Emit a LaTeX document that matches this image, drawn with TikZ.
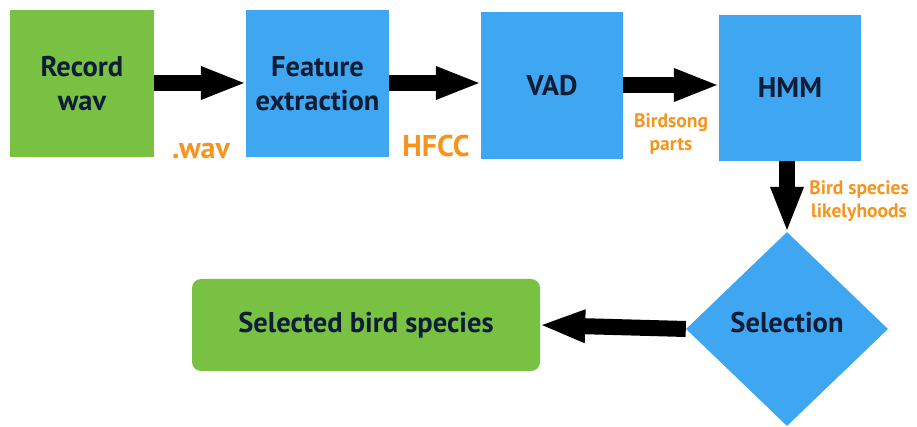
\documentclass[tikz,border=0pt]{standalone}
\usepackage{fontspec}
\setmainfont{PT Sans}
\usetikzlibrary{arrows.meta,shapes.geometric}
\definecolor{boxgreen}{HTML}{79C143}
\definecolor{boxblue}{HTML}{3FA7F2}
\definecolor{inktext}{HTML}{0E1D36}
\definecolor{tagorange}{HTML}{F7941D}
\tikzset{
  stage/.style={inner sep=0pt, align=center, text=inktext,
    font=\fontsize{28.5}{34}\selectfont\bfseries},
  greenbox/.style={stage, fill=boxgreen},
  bluebox/.style={stage, fill=boxblue},
  tag/.style={text=tagorange, inner sep=0pt, align=center},
  bigtag/.style={tag, font=\fontsize{30}{32}\selectfont\bfseries},
  smalltag/.style={tag, font=\fontsize{19.5}{23}\selectfont\bfseries},
  flow/.style={line width=16pt, draw=black,
    -{Triangle[length=46pt,width=30pt]}, shorten >=-1pt},
}
\begin{document}
\begin{tikzpicture}[x=1pt,y=-1pt]
\useasboundingbox (0,0) rectangle (917,427);
% top row of processing stages
\node[greenbox, minimum width=144pt, minimum height=147pt] (rec) at (82,83.5) {Record\\wav};
\node[bluebox, minimum width=143pt, minimum height=147pt] (feat) at (317.5,83.5) {Feature\\extraction};
\node[bluebox, minimum width=142pt, minimum height=147pt] (vad) at (552,85.5) {VAD};
\node[bluebox, minimum width=142pt, minimum height=146pt] (hmm) at (790,88) {HMM};
% decision and result
\node[shape=diamond, fill=boxblue, inner sep=0pt, minimum width=202pt, minimum height=194pt] (sel) at (787,329) {};
\node[stage] (seltext) at (787,323) {Selection};
\node[greenbox, rounded corners=9pt, minimum width=348pt, minimum height=92pt] (out) at (366,325) {Selected bird species};
% connectors
\draw[flow] (rec.east |- 0,83) -- (feat.west |- 0,83);
\draw[flow] (feat.east |- 0,83) -- (vad.west |- 0,83);
\draw[flow] (vad.east |- 0,85) -- (hmm.west |- 0,85);
\draw[flow] (hmm.south -| 787,0) -- (sel.north);
\draw[flow] (sel.west) -- (out.east);
% data labels
\node[bigtag] (lwav) at (201,151) {.wav};
\node[bigtag] (lhfcc) at (436,146) {HFCC};
\node[smalltag] (lbs) at (671,134) {Birdsong\\parts};
\node[smalltag] (lbl) at (859,201) {Bird species\\likelyhoods};
\end{tikzpicture}
\end{document}
